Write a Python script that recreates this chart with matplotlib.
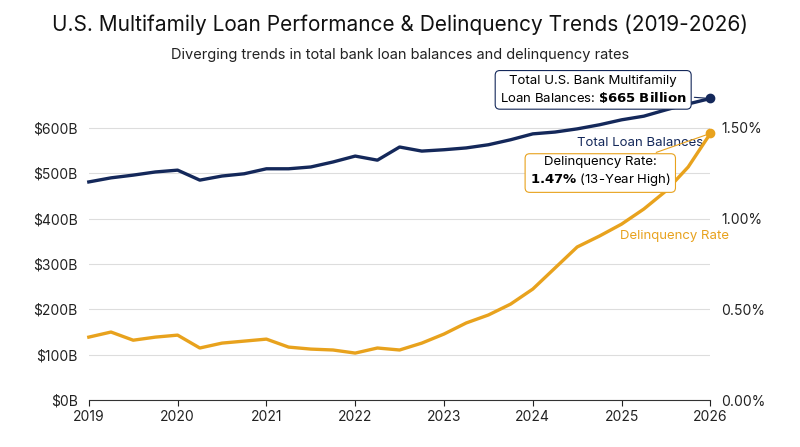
import matplotlib
matplotlib.use("Agg")
import matplotlib.pyplot as plt

plt.rcParams['font.family'] = ['Inter', 'DejaVu Sans']

years = [2019 + i * 0.25 for i in range(29)]
loans = [481, 490, 496, 503, 507, 485, 494, 499, 510, 510, 514, 525, 538, 529, 558, 549,
         552, 556, 563, 574, 587, 591, 598, 607, 618, 626, 640, 653, 665]
delinq = [0.347, 0.375, 0.33, 0.347, 0.358, 0.287, 0.314, 0.325, 0.336, 0.292, 0.281, 0.276,
          0.259, 0.287, 0.276, 0.314, 0.364, 0.425, 0.469, 0.529, 0.612, 0.728, 0.844, 0.904,
          0.97, 1.053, 1.153, 1.285, 1.47]
left_ticks = [0, 100, 200, 300, 400, 500, 600]
right_ticks = [0, 0.5, 1.0, 1.5]
x_ticks = list(range(2019, 2027))

navy = '#14285a'
orange = '#e8a21d'

fig = plt.figure(figsize=(8, 4.47), dpi=100)
ax = fig.add_axes([0.111, 0.105, 0.777, 0.698])
ax2 = ax.twinx()

ax.set_xlim(2019, 2026)
ax.set_ylim(0, 688)
ax2.set_ylim(0, 1.72)
ax.set_yticks(left_ticks)
ax.set_yticklabels([f"${v}B" for v in left_ticks])
ax2.set_yticks(right_ticks)
ax2.set_yticklabels([f"{v:.2f}%" for v in right_ticks])
ax.set_xticks(x_ticks)
ax.grid(axis='y', color='#dddddd', linewidth=0.8)
for a in (ax, ax2):
    for s in ['top', 'left', 'right']:
        a.spines[s].set_visible(False)
    a.tick_params(length=0, labelsize=10, colors='#222222')
ax.spines['bottom'].set_color('#333333')
ax2.spines['bottom'].set_visible(False)
ax.tick_params(axis='x', length=4, pad=3)
ax.tick_params(axis='y', pad=8)
ax2.tick_params(axis='y', pad=8)

ax.plot(years, loans, color=navy, lw=2.4, zorder=3, clip_on=False)
ax.plot(years[-1], loans[-1], 'o', color=navy, ms=6, zorder=4, clip_on=False)
ax2.plot(years, delinq, color=orange, lw=2.4, zorder=3, clip_on=False)
ax2.plot(years[-1], delinq[-1], 'o', color=orange, ms=6, zorder=4, clip_on=False)

ax.text(2024.5, 567, "Total Loan Balances", color=navy, fontsize=9.5, va='center')
ax2.text(2024.98, 0.905, "Delinquency Rate", color=orange, fontsize=9.5, va='center')

ax.annotate("Total U.S. Bank Multifamily\nLoan Balances: $\\bf{\\$665\\ Billion}$",
            xy=(years[-1], loans[-1]), xytext=(2024.68, 684), fontsize=9.5, ha='center', va='center',
            annotation_clip=False,
            bbox=dict(boxstyle='round,pad=0.35', fc='white', ec=navy, lw=0.8),
            arrowprops=dict(arrowstyle='-', color=navy, lw=0.8))
ax2.annotate("Delinquency Rate:\n$\\bf{1.47\\%}$ (13-Year High)",
             xy=(years[-1], delinq[-1]), xytext=(2024.76, 1.257), fontsize=9.5, ha='center', va='center',
             annotation_clip=False,
             bbox=dict(boxstyle='round,pad=0.35', fc='white', ec=orange, lw=0.8),
             arrowprops=dict(arrowstyle='-', color=orange, lw=0.8))

fig.text(0.5, 0.93, "U.S. Multifamily Loan Performance & Delinquency Trends (2019-2026)",
         ha='center', fontsize=15, color='#111111')
fig.text(0.5, 0.868, "Diverging trends in total bank loan balances and delinquency rates",
         ha='center', fontsize=10.5, color='#222222')

fig.savefig("out.png", dpi=100)
